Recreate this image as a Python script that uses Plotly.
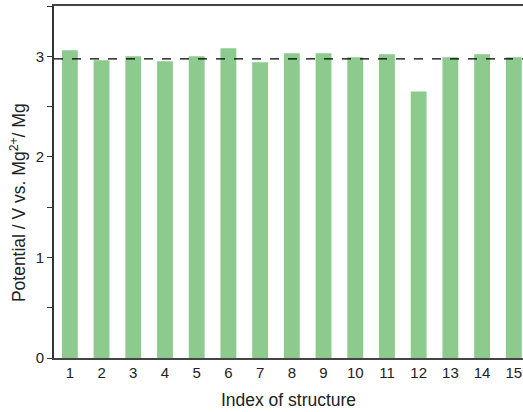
import plotly.graph_objects as go

# Structure indices and computed potentials (V vs. Mg2+/Mg)
structure_index = list(range(1, 16))
potential = [3.06, 2.96, 3.00, 2.95, 3.00, 3.08, 2.94, 3.03, 3.03, 2.99, 3.02, 2.65, 2.99, 3.02, 2.99]
reference_potential = 2.975

tick_labels = [str(i) for i in structure_index]
y_title = "Potential / V vs. Mg<sup>2+</sup>/ Mg"
x_title = "Index of structure"

fig = go.Figure()
fig.add_trace(go.Bar(
    x=structure_index,
    y=potential,
    width=0.5,
    marker=dict(color="#8cca8e", line=dict(width=0)),
    showlegend=False,
))

fig.add_hline(y=reference_potential, line=dict(color="black", width=1.3, dash="dash"))

font_family = "Liberation Sans, Arial, sans-serif"

# y-axis title placed as a rotated annotation
fig.add_annotation(
    text=y_title,
    textangle=-90,
    xref="paper", yref="paper",
    x=0, y=0.44,
    xanchor="center", yanchor="middle",
    xshift=-36,
    showarrow=False,
    font=dict(size=17.5, family=font_family, color="#222"),
)

fig.update_layout(
    width=523,
    height=412,
    margin=dict(l=54, r=0, t=6, b=54),
    plot_bgcolor="white",
    paper_bgcolor="white",
    font=dict(family=font_family, size=15, color="#222"),
    xaxis=dict(
        range=[0.5, 15.29],
        tickmode="array",
        tickvals=structure_index,
        ticktext=tick_labels,
        ticks="",
        showgrid=False,
        zeroline=False,
        showline=True,
        linecolor="#444",
        linewidth=1.5,
        mirror=True,
        title=dict(text=x_title, font=dict(size=17.5), standoff=14),
        tickfont=dict(size=15),
    ),
    yaxis=dict(
        range=[0, 3.5],
        dtick=1,
        tick0=0,
        ticks="outside",
        ticklen=5,
        tickwidth=1.2,
        tickcolor="#333",
        minor=dict(dtick=0.5, ticks="outside", ticklen=5, tickwidth=1.2, tickcolor="#333"),
        showgrid=False,
        zeroline=False,
        showline=True,
        linecolor="#333",
        linewidth=2,
        tickfont=dict(size=15),
    ),
)

fig.write_html("out.html")
